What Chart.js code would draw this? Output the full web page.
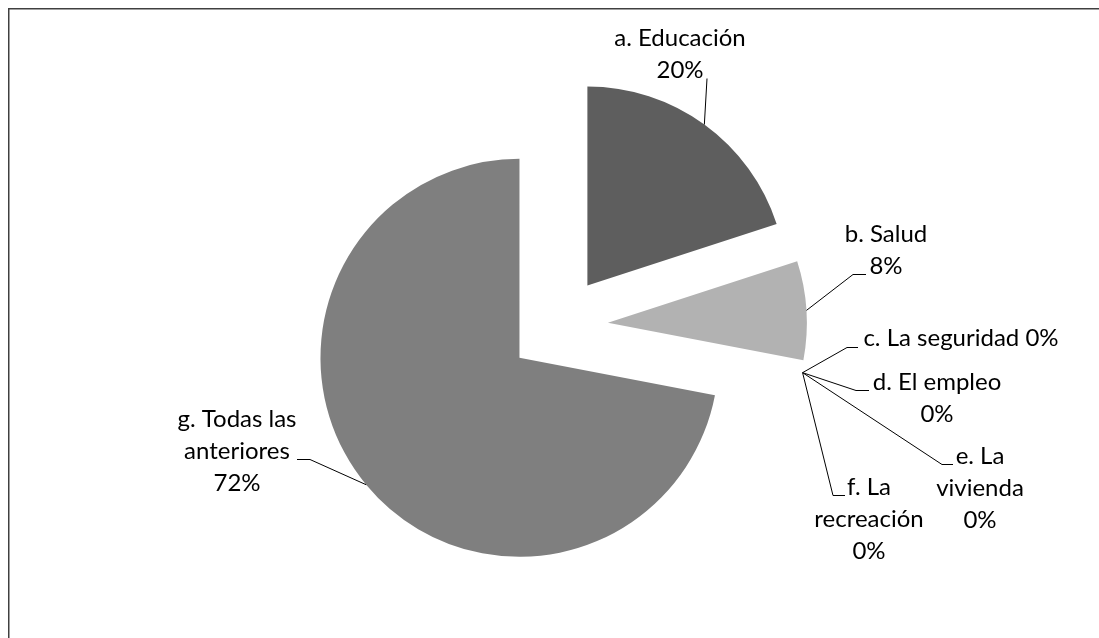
<!DOCTYPE html>
<html>
<head>
<meta charset="utf-8">
<script src="https://cdn.jsdelivr.net/npm/chart.js@4.4.1/dist/chart.umd.min.js"></script>
<style>
  html, body { margin: 0; background: #fff; }
  #wrap { width: 1099px; height: 638px; position: relative; }
</style>
</head>
<body>
<div id="wrap"><canvas id="chart"></canvas></div>
<script>
// data
const categories = ['a. Educación', 'b. Salud', 'c. La seguridad', 'd. El empleo', 'e. La vivienda', 'f. La recreación', 'g. Todas las anteriores'];
const shares = [20, 8, 0, 0, 0, 0, 72];
const sliceColors = ['#5e5e5e', '#b2b2b2', '#969696', '#6e6e6e', '#a4a4a4', '#5a5a5a', '#7f7f7f'];

// label layout: words per line, text centre x, first baseline, leader bend points
const wordsPerLine = [[2, 1], [2, 1], [4], [3, 1], [2, 1, 1], [2, 1, 1], [3, 1, 1]];
const labelX = [680, 886, 961, 937, 980, 869, 237];
const labelY = [46, 242, 346, 390, 464, 495, 427];
const leaderPts = [
  [[707, 78]],
  [[853, 274], [866, 274]],
  [[847, 347], [858, 347]],
  [[856, 390], [869, 390]],
  [[942, 464], [953, 464]],
  [[833, 495], [845, 495]],
  [[310, 459], [297, 459]],
];

const FONT = "Lato, 'Open Sans', sans-serif";
const FONT_SIZE = 24;
const LINE_H = 32;
const EXPLODE = 50;

// draw slices pulled out from the centre
const explodePlugin = {
  id: 'explode',
  beforeDatasetDraw(chart, args) {
    const ctx = chart.ctx;
    args.meta.data.forEach(arc => {
      if (!arc.circumference) return;
      const mid = (arc.startAngle + arc.endAngle) / 2;
      ctx.save();
      ctx.translate(Math.cos(mid) * EXPLODE, Math.sin(mid) * EXPLODE);
      arc.draw(ctx);
      ctx.restore();
    });
    return false;
  },
};

const labelPlugin = {
  id: 'sliceLabels',
  afterDatasetsDraw(chart) {
    const ctx = chart.ctx;
    const arcs = chart.getDatasetMeta(0).data;
    ctx.save();
    ctx.strokeStyle = '#000';
    ctx.lineWidth = 1;
    ctx.fillStyle = '#000';
    ctx.font = `${FONT_SIZE}px ${FONT}`;
    ctx.textAlign = 'center';
    ctx.textBaseline = 'alphabetic';
    arcs.forEach((arc, i) => {
      const mid = (arc.startAngle + arc.endAngle) / 2;
      const r = arc.outerRadius + EXPLODE;
      ctx.beginPath();
      ctx.moveTo(arc.x + Math.cos(mid) * r, arc.y + Math.sin(mid) * r);
      leaderPts[i].forEach(p => ctx.lineTo(p[0], p[1] + 0.5));
      ctx.stroke();

      const words = `${categories[i]} ${shares[i]}%`.split(' ');
      let k = 0;
      wordsPerLine[i].forEach((n, li) => {
        const line = words.slice(k, k + n).join(' ');
        k += n;
        ctx.fillText(line, labelX[i], labelY[i] + li * LINE_H);
      });
    });
    ctx.restore();
  },
};

// chart frame (left and top edges only are visible)
const framePlugin = {
  id: 'frame',
  beforeDraw(chart) {
    const ctx = chart.ctx;
    ctx.save();
    ctx.strokeStyle = '#404040';
    ctx.lineWidth = 1.5;
    ctx.beginPath();
    ctx.moveTo(8.75, chart.height + 5);
    ctx.lineTo(8.75, 8.75);
    ctx.lineTo(chart.width + 5, 8.75);
    ctx.stroke();
    ctx.restore();
  },
};

new Chart(document.getElementById('chart'), {
  type: 'pie',
  data: {
    labels: categories,
    datasets: [{
      data: shares,
      backgroundColor: sliceColors,
      borderWidth: 0,
    }],
  },
  options: {
    responsive: true,
    maintainAspectRatio: false,
    animation: false,
    radius: 199,
    layout: { padding: { left: 258, right: 241, top: 76, bottom: 62 } },
    plugins: {
      legend: { display: false },
      tooltip: { enabled: false },
    },
  },
  plugins: [framePlugin, explodePlugin, labelPlugin],
});
</script>
</body>
</html>
